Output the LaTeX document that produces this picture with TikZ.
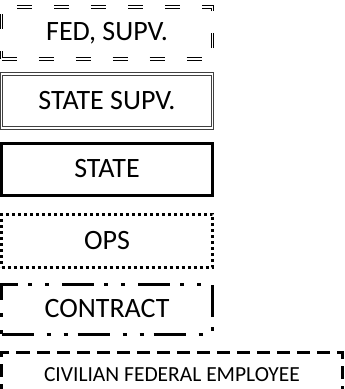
\documentclass[tikz,border=0pt]{standalone}
\usepackage{fontspec}
\setmainfont{Carlito}
\usepackage{tikz}
\usepackage{xcolor}

\begin{document}
\begin{tikzpicture}[x=1pt,y=-1pt,
  rank/.style={minimum width=211pt,minimum height=52pt,inner sep=0pt,font=\fontsize{28}{32}\selectfont}]
\useasboundingbox (0,0) rectangle (345,389);
\clip (0,0) rectangle (345,389);
\node[rank,draw,double,double distance=1.6pt,line width=1pt,dash pattern=on 15pt off 22pt] (fed) at (107,33) {FED, SUPV.};
\node[rank,draw=black!75,double,double distance=1.3pt,line width=1pt,minimum height=54pt] (stsupv) at (107,101) {STATE SUPV.};
\node[rank,draw,line width=3pt] (state) at (107,169) {STATE};
\node[rank,draw,line width=3pt,dash pattern=on 3pt off 3pt,minimum height=53pt] (ops) at (107,240.5) {OPS};
\node[rank,draw,line width=3pt,dash pattern=on 32pt off 13pt on 4pt off 13pt on 4pt off 10pt,minimum height=50pt] (contract) at (107,309) {CONTRACT};
\node[rank,draw,line width=3pt,dash pattern=on 13pt off 7pt,minimum width=341pt,minimum height=46pt,font=\fontsize{21.5}{25}\selectfont] (civ) at (172,375) {CIVILIAN FEDERAL EMPLOYEE};
\end{tikzpicture}
\end{document}
